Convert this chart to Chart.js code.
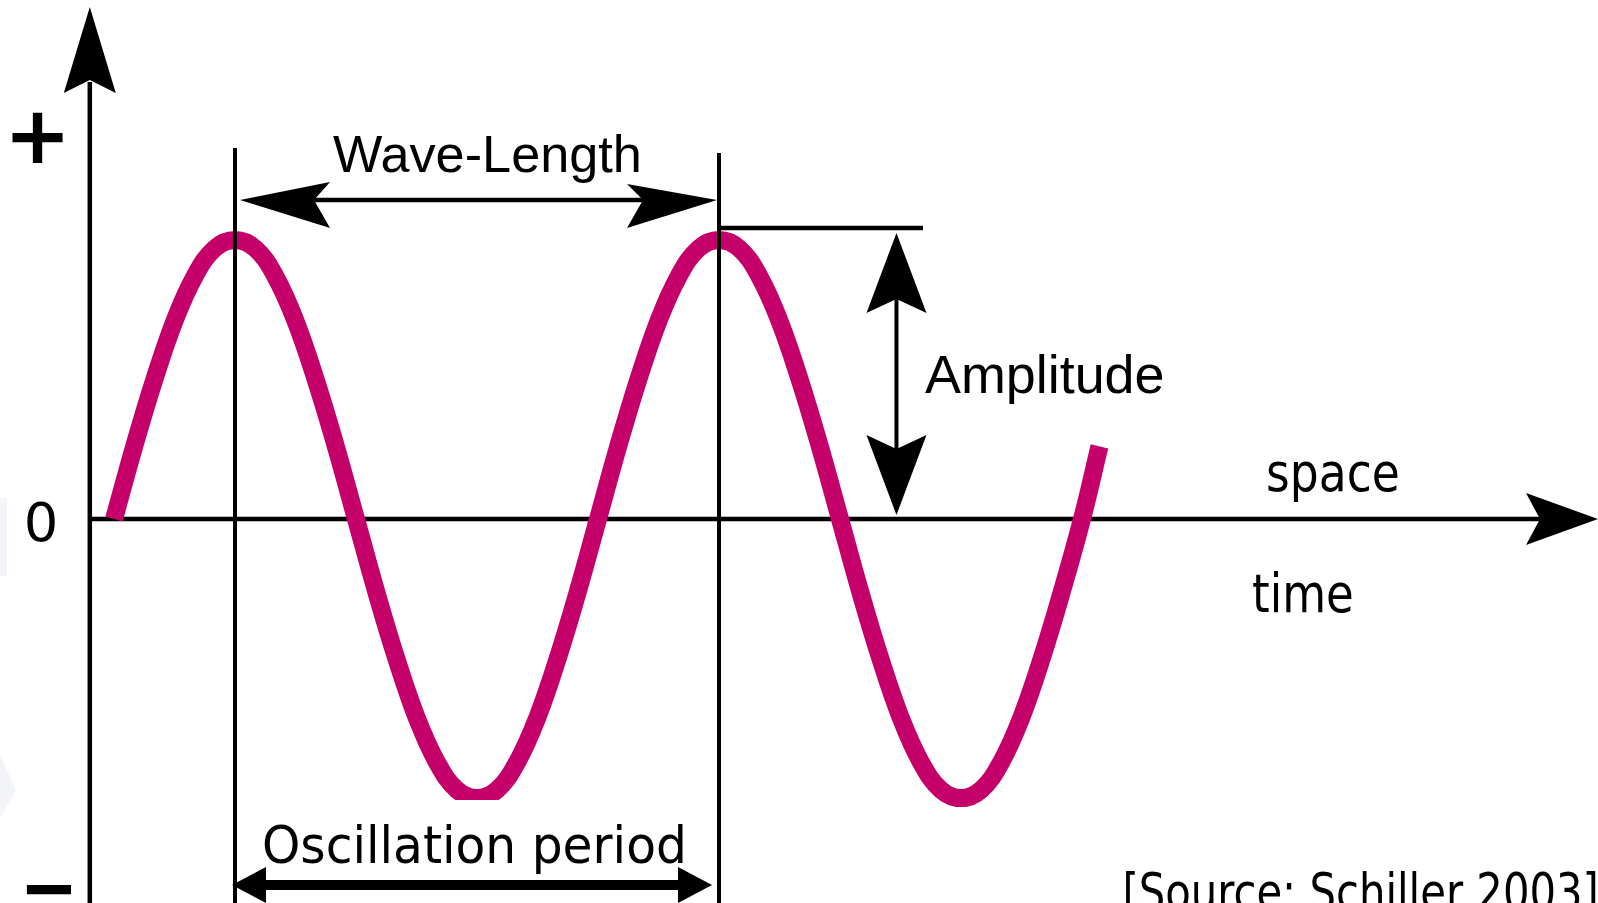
<!DOCTYPE html>
<html>
<head>
<meta charset="utf-8">
<title>Wave-Length / Amplitude</title>
<script src="https://cdn.jsdelivr.net/npm/chart.js@4.4.1/dist/chart.umd.min.js"></script>
<style>
  html, body { margin: 0; padding: 0; background: #fff; overflow: hidden; }
  canvas { display: block; }
</style>
</head>
<body>
<canvas id="wave" width="1598" height="903"></canvas>
<script>
// wave: phase in degrees, displacement in amplitudes
const phaseDeg = [
    0, 15, 30, 45, 60, 75, 90, 105, 120, 135, 150, 165,
    180, 195, 210, 225, 240, 255, 270, 285, 300, 315, 330, 345,
    360, 375, 390, 405, 420, 435, 450, 465, 480, 495, 510, 525,
    540, 555, 570, 585, 600, 615, 630, 645, 660, 675, 690, 705,
    720, 733
];
const displacement = [
    0, 0.26, 0.5, 0.71, 0.87, 0.97, 1, 0.97, 0.87, 0.71, 0.5, 0.26,
    0, -0.26, -0.5, -0.71, -0.87, -0.97, -1, -0.97, -0.87, -0.71, -0.5, -0.26,
    0, 0.26, 0.5, 0.71, 0.87, 0.97, 1, 0.97, 0.87, 0.71, 0.5, 0.26,
    0, -0.26, -0.5, -0.71, -0.87, -0.97, -1, -0.97, -0.87, -0.71, -0.5, -0.26,
    0, 0.26
];
const axisSigns = ['+', '0', '\u2212'];
const peakPhases = [90, 450];

const INK = '#000';
const WAVE = '#c6006b';
const SANS = '"Liberation Sans", Arial, sans-serif';
const COND = '"DejaVu Sans Condensed", "DejaVu Sans", sans-serif';

// draw text so that its ink starts at `left` on `baseline`, optionally squeezed to `width`
function label(ctx, text, font, left, baseline, width) {
    ctx.font = font;
    const m = ctx.measureText(text);
    const inkW = m.actualBoundingBoxLeft + m.actualBoundingBoxRight;
    const sx = width ? width / inkW : 1;
    ctx.save();
    ctx.translate(left, baseline);
    ctx.scale(sx, 1);
    ctx.textAlign = 'left';
    ctx.textBaseline = 'alphabetic';
    ctx.fillText(text, m.actualBoundingBoxLeft, 0);
    ctx.restore();
}

// fit a glyph's ink into a box
function boxed(ctx, text, font, x0, y0, x1, y1) {
    ctx.font = font;
    const m = ctx.measureText(text);
    const w = m.actualBoundingBoxLeft + m.actualBoundingBoxRight;
    const h = m.actualBoundingBoxAscent + m.actualBoundingBoxDescent;
    ctx.save();
    ctx.translate(x0, y0);
    ctx.scale((x1 - x0) / w, (y1 - y0) / h);
    ctx.textAlign = 'left';
    ctx.textBaseline = 'alphabetic';
    ctx.fillText(text, m.actualBoundingBoxLeft, m.actualBoundingBoxAscent);
    ctx.restore();
}

// notched arrow head; (ux,uy) points from the tip back along the shaft
function head(ctx, tx, ty, ux, uy, len, wA, wB, notch) {
    const px = -uy, py = ux;
    ctx.beginPath();
    ctx.moveTo(tx, ty);
    ctx.lineTo(tx + ux * len + px * wA, ty + uy * len + py * wA);
    ctx.lineTo(tx + ux * notch, ty + uy * notch);
    ctx.lineTo(tx + ux * len - px * wB, ty + uy * len - py * wB);
    ctx.closePath();
    ctx.fill();
}

function line(ctx, x0, y0, x1, y1, w) {
    ctx.lineWidth = w;
    ctx.beginPath();
    ctx.moveTo(x0, y0);
    ctx.lineTo(x1, y1);
    ctx.stroke();
}

const diagram = {
    id: 'diagram',
    beforeDatasetsDraw(chart) {
        const { ctx, scales: { x, y } } = chart;
        ctx.save();
        // faint slide background shapes at the left edge
        ctx.fillStyle = '#f3f4f7';
        ctx.fillRect(0, 498, 7, 78);
        ctx.beginPath();
        ctx.moveTo(0, 755); ctx.lineTo(16, 790); ctx.lineTo(0, 818);
        ctx.closePath(); ctx.fill();
        // horizontal axis, under the wave
        ctx.strokeStyle = INK;
        const y0 = y.getPixelForValue(0);
        line(ctx, x.getPixelForValue(-18), y0, 1560, y0, 4.5);
        ctx.fillStyle = INK;
        head(ctx, 1598, y0, -1, 0, 72, 26, 26, 58);
        ctx.restore();
    },
    afterDatasetsDraw(chart) {
        const { ctx, scales: { x, y } } = chart;
        const H = chart.height;
        ctx.save();
        ctx.fillStyle = '#fff';
        ctx.fillRect(248, 800, 470, H - 800);

        ctx.strokeStyle = INK;
        ctx.fillStyle = INK;

        // vertical axis
        const ax = x.getPixelForValue(-18);
        line(ctx, ax, 82, ax, H, 4.5);
        head(ctx, ax, 7, 0, 1, 86, 26, 26, 73);

        // marker lines through the two crests
        const p1 = x.getPixelForValue(peakPhases[0]);
        const p2 = x.getPixelForValue(peakPhases[1]);
        line(ctx, p1, 148, p1, H, 4);
        line(ctx, p2, 153, p2, H, 4);

        // wave-length arrow
        line(ctx, p1 + 60, 200, p2 - 60, 200, 4.5);
        head(ctx, p1 + 5, 200, 1, 0, 90, 28, 18, 74);
        head(ctx, p2 - 2, 200, -1, 0, 90, 16, 28, 74);

        // amplitude: crest level line + double arrow down to the axis
        const yTop = y.getPixelForValue(1);
        const yZero = y.getPixelForValue(0);
        const amx = x.getPixelForValue(582);
        line(ctx, p2, yTop - 12, 923, yTop - 12, 4.5);
        line(ctx, amx, yTop + 50, amx, yZero - 50, 4);
        head(ctx, amx, yTop - 7, 0, 1, 80, 30, 30, 66);
        head(ctx, amx, yZero - 4, 0, -1, 80, 30, 30, 66);

        // oscillation period arrow
        line(ctx, 260, 885, 685, 885, 10);
        head(ctx, 232, 885, 1, 0, 34, 18, 18, 34);
        head(ctx, 712, 885, -1, 0, 34, 18, 18, 34);

        // axis signs
        boxed(ctx, axisSigns[0], 'bold 80px "DejaVu Sans", sans-serif', 12, 112, 63, 163);
        boxed(ctx, axisSigns[1], '54px ' + COND, 27, 502, 55, 542);
        boxed(ctx, axisSigns[2], 'bold 72px "DejaVu Sans", sans-serif', 26, 885, 71, 895);

        // labels
        label(ctx, 'Wave-Length', '52px ' + SANS, 333, 172, 306);
        label(ctx, 'Amplitude', '53px ' + SANS, 925, 393, 238);
        label(ctx, 'space', '54px ' + COND, 1268, 491, 130);
        label(ctx, 'time', '54px ' + COND, 1253, 612, 99);
        label(ctx, 'Oscillation period', '52px ' + COND, 264, 863, 419);
        label(ctx, '[Source: Schiller 2003]', '52px ' + COND, 1126, 910, 470);
        ctx.restore();
    }
};

new Chart(document.getElementById('wave'), {
    type: 'line',
    data: {
        datasets: [{
            data: phaseDeg.map((p, i) => ({ x: p, y: displacement[i] })),
            borderColor: WAVE,
            borderWidth: 18,
            borderCapStyle: 'butt',
            borderJoinStyle: 'round',
            tension: 0.4,
            pointRadius: 0,
            fill: false
        }]
    },
    options: {
        responsive: false,
        animation: false,
        events: [],
        layout: { padding: 0 },
        plugins: { legend: { display: false }, tooltip: { enabled: false } },
        scales: {
            x: { type: 'linear', min: -84.8, max: 1103.8, display: false },
            y: { min: -1.376, max: 1.86, display: false }
        }
    },
    plugins: [diagram]
});
</script>
</body>
</html>
